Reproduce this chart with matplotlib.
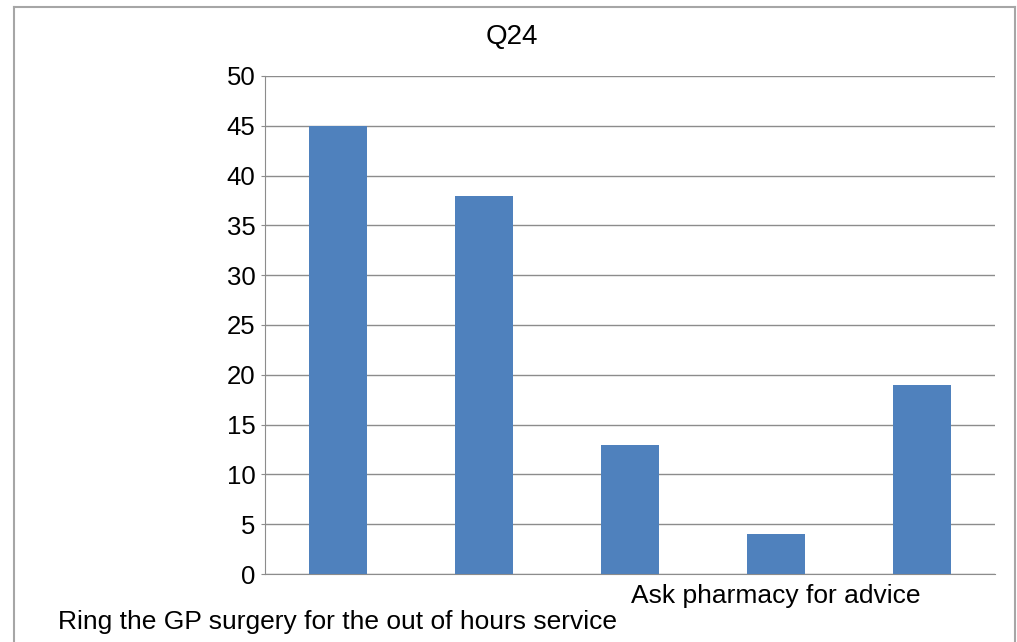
import numpy as np
import matplotlib.pyplot as plt
from matplotlib.lines import Line2D

plt.rcParams['font.family'] = ['Liberation Sans', 'DejaVu Sans']

# data
values = [45, 38, 13, 4, 19]
labels = ['Ring the GP surgery for the out of hours service', '', '',
          'Ask pharmacy for advice', '']
title = 'Q24'

fig = plt.figure(figsize=(10.17, 6.42), dpi=100)
ax = fig.add_axes([265 / 1017, 1 - 574 / 642, 730 / 1017, 498 / 642])

x = np.arange(len(values))
ax.bar(x, values, width=0.4, color='#4f81bd', zorder=3)

ax.set_xlim(-0.5, len(values) - 0.5)
ax.set_ylim(0, 50)
ax.set_yticks(np.arange(0, 51, 5))
ax.grid(axis='y', color='#8c8c8c', linewidth=1, zorder=0)
ax.tick_params(axis='y', labelsize=18.5, length=3, color='#8c8c8c', pad=4)
ax.tick_params(axis='x', length=0)
ax.set_xticks(x)
ax.set_xticklabels([''] * len(values))

# staggered category labels
for i, lab in enumerate(labels):
    if not lab:
        continue
    off = 19 if i % 2 == 0 else 0
    ax.annotate(lab, xy=(i, 0), xycoords=('data', 'axes fraction'),
                xytext=(0, -7 - off), textcoords='offset points',
                ha='center', va='top', fontsize=19)

for s in ['top', 'right']:
    ax.spines[s].set_visible(False)
ax.spines['left'].set_color('#8c8c8c')
ax.spines['bottom'].set_color('#8c8c8c')

fig.text(512 / 1017, 1 - 37 / 642, title, ha='center', va='center', fontsize=20)

# outer frame
c = '#a6a6a6'
fig.add_artist(Line2D([14 / 1017, 14 / 1017], [0, 1 - 7 / 642], color=c, lw=1.5))
fig.add_artist(Line2D([14 / 1017, 1015 / 1017], [1 - 7 / 642, 1 - 7 / 642], color=c, lw=1.5))
fig.add_artist(Line2D([1015 / 1017, 1015 / 1017], [0, 1 - 7 / 642], color=c, lw=1.5))

fig.savefig('out.png', dpi=100)
